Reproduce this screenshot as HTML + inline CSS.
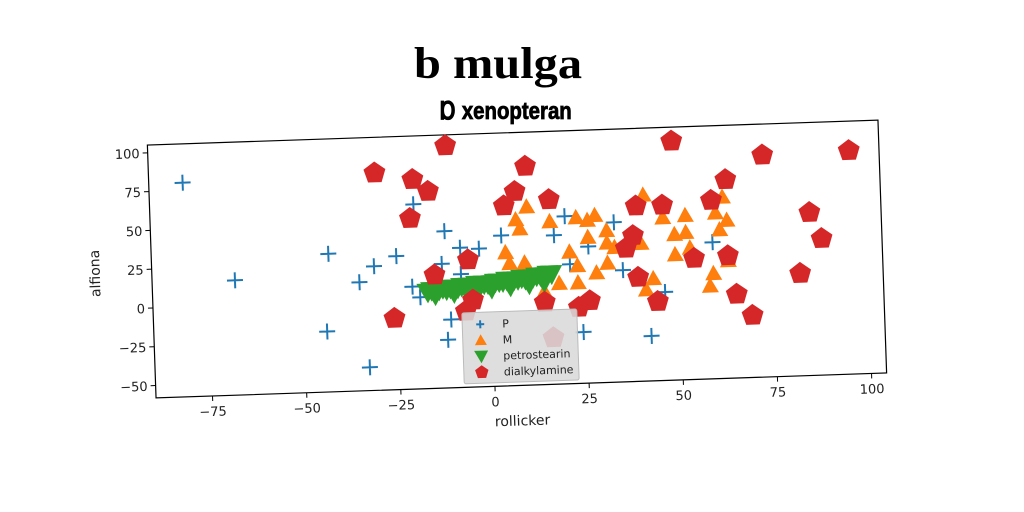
<!DOCTYPE html>
<html><head><meta charset="utf-8">
<style>
html,body{margin:0;padding:0;background:#fff;}
svg{display:block;}
text{font-family:"DejaVu Sans","Liberation Sans",sans-serif;}
</style></head>
<body>
<svg id="chart" width="1024" height="512" viewBox="0 0 1024 512">
<text x="0" y="0" transform="translate(498,78) scale(1.1,1)" text-anchor="middle" font-weight="bold" font-size="44" fill="#000" style="font-family:'Liberation Serif',serif">b mulga</text>
<text x="0" y="0" transform="translate(506,119) scale(0.85,1)" text-anchor="middle" font-weight="bold" font-size="24" fill="#000" stroke="#000" stroke-width="0.8" style="font-family:'Liberation Sans',sans-serif">Ɒ xenopteran</text>
<g id="plot" transform="rotate(-1.96 517 259)"></g>
</svg>
<script>
const xTicks = [-75, -50, -25, 0, 25, 50, 75, 100];
const yTicks = [-50, -25, 0, 25, 50, 75, 100];
const pX = [-81,-68,-43,-44,-33,-35,-31,-25,-20,-21,-19,-12,-8,-3,-13,-8,-11,-12,3,20,17,26,21,35,33,46,42,24,59];
const pY = [80,16,31,-19,-43,12,22,28,61,8,1,43,32,31,22,15,-14,-27,39,50,38,30,19,14,45,-1,-29,-25,30];
const mX = [10,7,8,4,5,9,16,23,26,28,26,31,31,33,21,23,28,31,18,23,14,41,46,52,49,52,49,53,40,43,41,59,58,62,60,63,61,63];
const mY = [57,49,43,28,21,21,47,49,47,50,36,40,32,29,27,18,13,19,7,7,2,62,47,48,36,37,23,27,31,8,1,10,2,59,49,44,38,18];
const gX = [-17,-16,-15,-14,-13,-12,-11,-10,-9,-8,-7,-6,-5,-4,-3,-2,-1,0,1,2,3,4,5,6,7,8,9,10,11,12,13,14,15,16,-15,-10,-5,0,5,10,14];
const gY = [4,5,4,5,6,5,6,6,6,7,6,7,7,8,7,8,8,8,9,9,9,10,9,10,10,11,10,11,11,12,12,12,13,13,2,3,4,5,6,7,8];
const dX = [-11,-30,-20,-16,-21,-15,-6,-5,-26,10,7,4,16,49,73,96,63,59,39,46,38,36,54,63,39,44,85,88,82,65,69,14,26,23,16,-7];
const dY = [98,82,77,69,52,15,24,-2,-12,83,67,58,61,96,85,86,70,57,55,55,36,28,20,21,9,-7,47,30,8,-4,-18,-5,-5,-9,-28,-9];

const NS = 'http://www.w3.org/2000/svg';
const g = document.getElementById('plot');
const L = 151.5, T = 132.5, W = 731, H = 253;
const xMin = -90, xMax = 104, yMin = -58, yMax = 105;
function xs(v){ return L + (v - xMin) / (xMax - xMin) * W; }
function ys(v){ return T + (yMax - v) / (yMax - yMin) * H; }
function mk(tag, attrs, parent){
  const e = document.createElementNS(NS, tag);
  for (const k in attrs) e.setAttribute(k, attrs[k]);
  (parent || g).appendChild(e);
  return e;
}
function plus(x, y, s, parent){
  return mk('path', {d:`M${x-s},${y}H${x+s}M${x},${y-s}V${y+s}`, stroke:'#1f77b4', 'stroke-width':2, fill:'none'}, parent);
}
function tri(x, y, s, color, down, parent){
  const d = down ? `M${x-s},${y-s*0.8}L${x+s},${y-s*0.8}L${x},${y+s}Z` : `M${x-s},${y+s*0.8}L${x+s},${y+s*0.8}L${x},${y-s}Z`;
  return mk('path', {d:d, fill:color}, parent);
}
function pent(x, y, r, parent){
  let pts = [];
  for (let i = 0; i < 5; i++){ const a = -Math.PI/2 + i*2*Math.PI/5; pts.push((x + r*Math.cos(a)).toFixed(1) + ',' + (y + r*Math.sin(a)).toFixed(1)); }
  return mk('polygon', {points: pts.join(' '), fill:'#d62728'}, parent);
}

const frame = mk('rect', {x:L, y:T, width:W, height:H, fill:'none', stroke:'#000', 'stroke-width':1.2});



xTicks.forEach(v => {
  const x = xs(v);
  mk('line', {x1:x, y1:T+H, x2:x, y2:T+H+5, stroke:'#000'});
  const t = mk('text', {x:x, y:T+H+20, 'text-anchor':'middle', 'font-size':13, fill:'#222'});
  t.textContent = v < 0 ? '\u2212' + Math.abs(v) : String(v);
  
  
});
yTicks.forEach(v => {
  const y = ys(v);
  mk('line', {x1:L-5, y1:y, x2:L, y2:y, stroke:'#000'});
  const t = mk('text', {x:L-8, y:y+5, 'text-anchor':'end', 'font-size':13, fill:'#222'});
  t.textContent = v < 0 ? '\u2212' + Math.abs(v) : String(v);
  
  
});
const xl = mk('text', {x:L+W/2, y:T+H+40, 'text-anchor':'middle', 'font-size':14, fill:'#222'});
xl.textContent = 'rollicker';


const yl = mk('text', {x:0, y:0, transform:`translate(${L-52},${T+H/2}) rotate(-90)`, 'text-anchor':'middle', 'font-size':14, fill:'#222'});
yl.textContent = 'alfiona';



pX.forEach((v, i) => {
  const e = plus(xs(v), ys(pY[i]), 8);
  
  
});
mX.forEach((v, i) => {
  const e = tri(xs(v), ys(mY[i]), 8.5, '#ff7f0e', false);
  
  
});
gX.forEach((v, i) => {
  const e = tri(xs(v), ys(gY[i]), 11, '#2ca02c', true);
  
  
});
dX.forEach((v, i) => {
  const e = pent(xs(v), ys(dY[i]), 11.5);
  
  
});

const lg = mk('g', {});


mk('rect', {x:460, y:311, width:115, height:71, rx:2, fill:'#d9d9d9', 'fill-opacity':0.88, stroke:'#bbb'}, lg);
const labels = ['P', 'M', 'petrostearin', 'dialkylamine'];
labels.forEach((lab, i) => {
  const y = 323 + i*16;
  let m;
  if (i === 0) m = plus(478, y, 4, lg);
  else if (i === 1) m = tri(478, y, 6, '#ff7f0e', false, lg);
  else if (i === 2) m = tri(478, y, 7, '#2ca02c', true, lg);
  else m = pent(478, y, 7, lg);
  
  
  const t = mk('text', {x:500, y:y+4, 'font-size':11, fill:'#222'}, lg);
  t.textContent = lab;
  
  
});
</script>
</body></html>
